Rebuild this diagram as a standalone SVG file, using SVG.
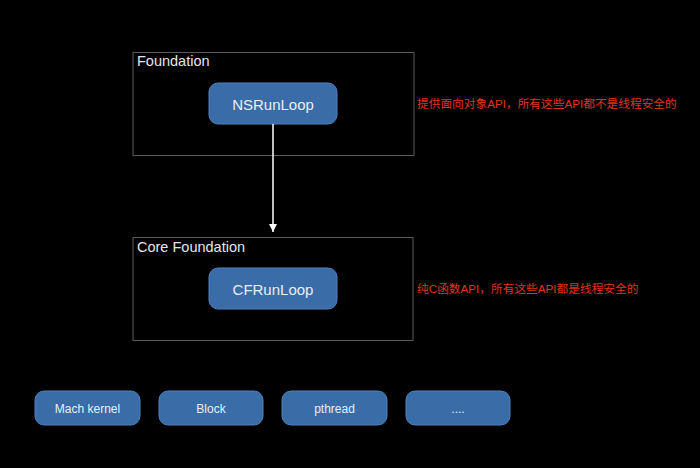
<svg xmlns="http://www.w3.org/2000/svg" width="700" height="468" viewBox="0 0 700 468">
<style>
.frame{fill:none;stroke:#5a5a5a;stroke-width:1}
.title{font-family:"Liberation Sans",Arial,sans-serif;font-size:14.5px;fill:#e6e6e6}
.node{fill:#3a6ca8;stroke:#4f82bd;stroke-width:1}
.nt{font-family:"Liberation Sans",Arial,sans-serif;font-size:15px;fill:#e8eef6;text-anchor:middle;dominant-baseline:central}
.st{font-family:"Liberation Sans",Arial,sans-serif;font-size:12px;fill:#e8eef6;text-anchor:middle;dominant-baseline:central}
.note{font-family:"Liberation Sans","Noto Sans CJK SC",sans-serif;font-size:11.7px;fill:#e0341f;dominant-baseline:central}
</style>
<defs>
<marker id="ah" markerWidth="10" markerHeight="10" refX="8" refY="5" orient="auto" markerUnits="userSpaceOnUse">
<path d="M0,1 L8,5 L0,9 Z" fill="#ffffff"/>
</marker>
</defs>
<rect width="700" height="468" fill="#000000"/>
<g id="foundation">
<rect class="frame" x="133" y="52.5" width="281" height="103"/>
<text class="title" x="137" y="66">Foundation</text>
</g>
<g id="nsrunloop">
<rect class="node" x="209" y="83" width="128" height="41" rx="9"/>
<text class="nt" x="273" y="104">NSRunLoop</text>
</g>
<g id="corefoundation">
<rect class="frame" x="133" y="237.5" width="280" height="103"/>
<text class="title" x="137" y="252">Core Foundation</text>
</g>
<g id="cfrunloop">
<rect class="node" x="209" y="268" width="128" height="41" rx="9"/>
<text class="nt" x="273" y="289">CFRunLoop</text>
</g>
<g id="note1"><text class="note" x="417" y="103">提供面向对象API，所有这些API都不是线程安全的</text></g>
<g id="note2"><text class="note" x="417" y="288">纯C函数API，所有这些API都是线程安全的</text></g>
<g id="mach"><rect class="node" x="35" y="391" width="105" height="34" rx="9"/><text class="st" x="87.5" y="409">Mach kernel</text></g>
<g id="block"><rect class="node" x="159" y="391" width="104" height="34" rx="9"/><text class="st" x="211" y="409">Block</text></g>
<g id="pthread"><rect class="node" x="282" y="391" width="105" height="34" rx="9"/><text class="st" x="334.5" y="409">pthread</text></g>
<g id="more"><rect class="node" x="406" y="391" width="104" height="34" rx="9"/><text class="st" x="458" y="409">....</text></g>
<g id="connectors">
<line x1="273" y1="124" x2="273" y2="232" stroke="#ffffff" stroke-width="1.5" marker-end="url(#ah)"/>
</g>
</svg>
